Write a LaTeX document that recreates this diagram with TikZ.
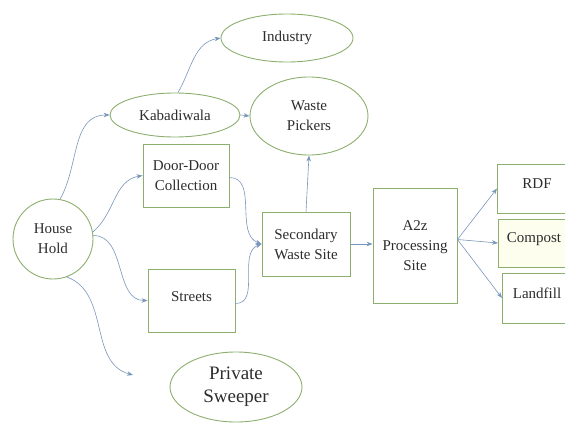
\documentclass[tikz,border=0pt]{standalone}
\usepackage{fontspec}
\setmainfont{Liberation Serif}
\newfontfamily\tms{Liberation Serif}
\usetikzlibrary{arrows.meta,shapes.geometric}
\definecolor{boxgreen}{RGB}{140,175,110}
\definecolor{arrowblue}{RGB}{120,150,185}
\definecolor{txt}{RGB}{45,45,45}
\begin{document}
\begin{tikzpicture}[x=1pt,y=1pt,
  every node/.style={text=txt, font=\tms\fontsize{15}{20}\selectfont, align=center, inner sep=0pt},
  boxnode/.style={draw=boxgreen, line width=0.9pt, fill=white, rectangle},
  ellnode/.style={draw=boxgreen, line width=0.9pt, fill=white, ellipse},
  conn/.style={draw=arrowblue, line width=0.6pt, -{Stealth[length=6pt,width=4.5pt]}}
]
\useasboundingbox (0,0) rectangle (565,-433);
% nodes
\node[draw=boxgreen, line width=0.9pt, circle, minimum size=80pt] (hh) at (53,-239) {House\\Hold};
\node[ellnode, minimum width=130pt, minimum height=44pt] (kab) at (175,-115) {Kabadiwala};
\node[ellnode, minimum width=132pt, minimum height=48pt] (ind) at (287,-38) {Industry};
\node[ellnode, minimum width=118pt, minimum height=78pt] (wp) at (309,-116) {Waste\\Pickers};
\node[boxnode, minimum width=86pt, minimum height=63pt] (dd) at (186,-175.5) {Door-Door\\Collection};
\node[boxnode, minimum width=87pt, minimum height=63pt] (st) at (191.5,-300.5) {};
\node (stt) at (191.5,-297) {Streets};
\node[boxnode, minimum width=88pt, minimum height=64pt] (sec) at (306,-244) {Secondary\\Waste Site};
\node[boxnode, minimum width=84pt, minimum height=115pt] (a2z) at (415,-245.5) {A2z\\Processing\\Site};
\node[boxnode, minimum width=90pt, minimum height=49pt, anchor=west] (rdf) at (497,-188.5) {};
\node (rdft) at (537,-184) {RDF};
\node[boxnode, fill={rgb,255:red,254;green,254;blue,238}, minimum width=90pt, minimum height=48pt, anchor=west] (comp) at (498,-243) {};
\node (compt) at (534,-239) {Compost};
\node[boxnode, minimum width=90pt, minimum height=50pt, anchor=west] (lf) at (502,-298) {};
\node (lft) at (537,-293) {Landfill};
\node[ellnode, minimum width=132pt, minimum height=70pt, font=\tms\fontsize{19}{23}\selectfont] (ps) at (236,-387) {Private\\Sweeper};
\coordinate (psend) at (133,-375);
% connectors
\draw[conn] (hh.80) to[out=60,in=180] (kab.west);
\draw[conn] (kab.north) ++(3,0) to[out=60,in=190] (ind.west);
\draw[conn] (kab.east) -- (wp.west);
\draw[conn] (hh.10) to[out=40,in=190] (dd.west);
\draw[conn] (hh.5) to[out=0,in=180] (st.west);
\draw[conn] (hh.-70) to[out=-20,in=165] (psend);
\draw[conn] (dd.east) ++(0,-2) to[out=0,in=160] (sec.west);
\draw[conn] (st.east) ++(0,-3) to[out=0,in=200] (sec.west);
\draw[conn] (sec.north) -- (wp.south);
\draw[conn] (sec.east) -- (a2z.west |- sec.east);
\draw[conn] (a2z.east) ++(0,6) coordinate (a2zo) -- (rdf.west);
\draw[conn] (a2zo) -- (comp.west);
\draw[conn] (a2zo) -- (lf.west);
\end{tikzpicture}
\end{document}
